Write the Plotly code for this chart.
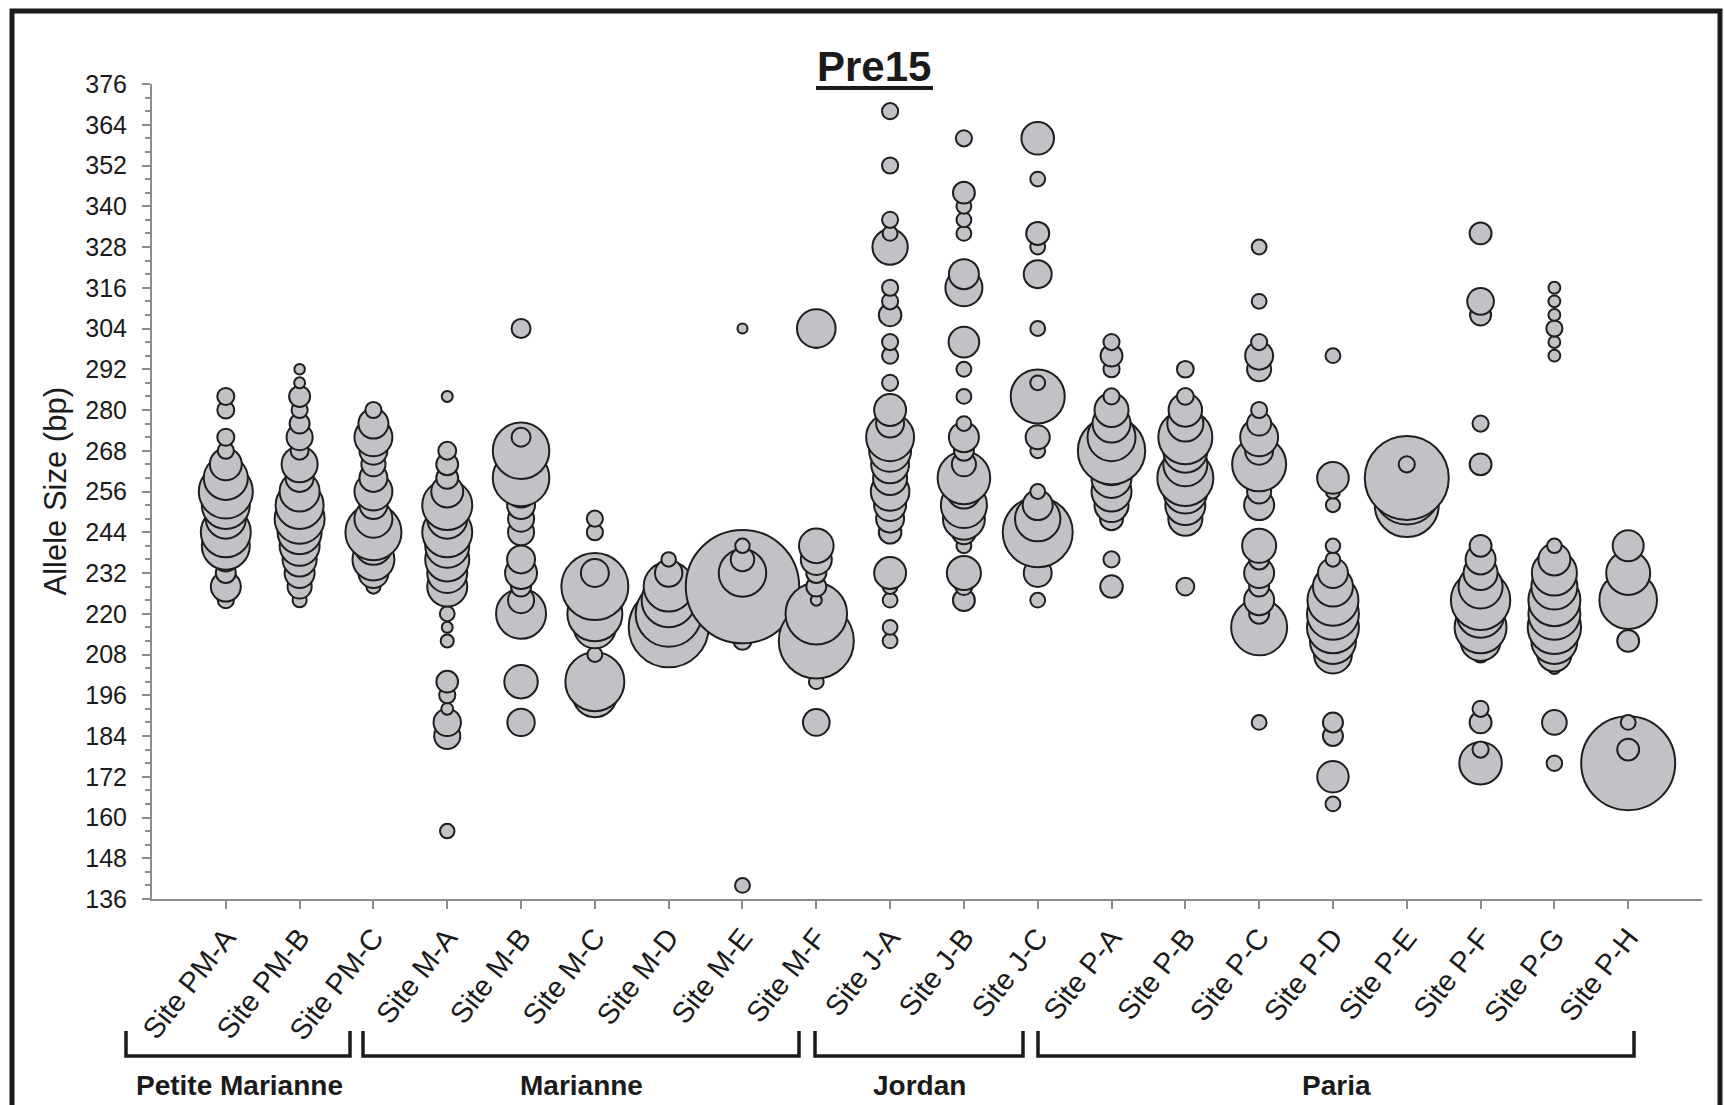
import plotly.graph_objects as go

# ---------------- data ----------------
sites = ["Site PM-A", "Site PM-B", "Site PM-C", "Site M-A", "Site M-B", "Site M-C",
         "Site M-D", "Site M-E", "Site M-F", "Site J-A", "Site J-B", "Site J-C",
         "Site P-A", "Site P-B", "Site P-C", "Site P-D", "Site P-E", "Site P-F",
         "Site P-G", "Site P-H"]

groups = ["Petite Marianne", "Marianne", "Jordan", "Paria"]

y_ticks = list(range(136, 377, 12))

# allele sizes (bp) and relative bubble value (frequency) per site
PM_A_size = [284, 280, 272, 268, 264, 260, 256, 252, 248, 244, 240, 236, 232, 228, 224]
PM_A_freq = [2.9, 2.9, 2.9, 2.6, 10.2, 19.4, 29.2, 23.0, 16.0, 25.0, 23.0, 5.8, 4.0, 9.0, 2.6]

PM_B_size = [292, 288, 284, 280, 276, 272, 268, 264, 260, 256, 252, 248, 244, 240, 236, 232, 228, 224]
PM_B_freq = [1.1, 1.2, 4.4, 2.6, 4.0, 6.8, 3.2, 13.0, 7.8, 16.0, 23.0, 25.0, 19.4, 16.0, 11.6, 9.0, 5.8, 2.0]

PM_C_size = [280, 276, 272, 268, 264, 260, 256, 252, 248, 244, 240, 236, 232, 228]
PM_C_freq = [2.6, 9.0, 14.4, 7.8, 5.8, 7.8, 14.4, 7.8, 14.4, 31.4, 14.4, 17.6, 9.0, 2.0]

M_A_size = [284, 268, 264, 260, 256, 252, 248, 244, 240, 236, 232, 228, 220, 216, 212, 200, 196, 192, 188, 184, 156]
M_A_freq = [1.2, 3.2, 4.8, 4.8, 10.2, 25.0, 16.0, 25.0, 19.4, 19.4, 16.0, 16.0, 2.2, 1.2, 1.7, 4.7, 2.6, 1.4, 7.5, 6.8, 2.1]

M_B_size = [304, 272, 268, 260, 256, 252, 248, 244, 236, 232, 228, 224, 220, 200, 188]
M_B_freq = [3.6, 3.6, 32.0, 32.0, 10.2, 7.8, 6.8, 6.8, 7.8, 10.2, 4.0, 6.8, 25.0, 11.2, 7.5]

M_C_size = [248, 244, 232, 228, 220, 216, 208, 200, 196]
M_C_freq = [2.6, 2.6, 7.8, 44.9, 30.3, 17.6, 2.2, 34.8, 19.4]

M_D_size = [236, 232, 228, 224, 220, 216]
M_D_freq = [2.1, 7.5, 25.0, 29.2, 43.6, 64.0]

M_E_size = [304, 240, 236, 232, 228, 212, 140]
M_E_freq = [1.0, 2.1, 5.5, 22.5, 128.6, 3.2, 2.2]

M_F_size = [304, 300, 240, 236, 232, 228, 224, 220, 212, 200, 188]
M_F_freq = [14.9, 1.4, 12.0, 9.6, 4.0, 4.0, 1.2, 37.9, 56.3, 2.2, 7.1]

J_A_size = [368, 352, 336, 332, 328, 316, 312, 308, 300, 296, 288, 280, 276, 272, 268, 264,
            260, 256, 252, 248, 244, 232, 228, 224, 216, 212]
J_A_freq = [2.6, 2.6, 2.6, 2.2, 12.5, 2.6, 2.6, 5.1, 2.6, 2.6, 2.6, 10.2, 7.8, 23.0, 17.6, 14.4,
            11.6, 14.9, 10.2, 7.8, 5.1, 10.2, 2.2, 2.2, 2.2, 2.2]

J_B_size = [360, 344, 340, 336, 332, 320, 316, 300, 292, 284, 276, 272, 268, 264, 260, 256,
            252, 248, 244, 240, 232, 228, 224]
J_B_freq = [2.6, 4.8, 2.2, 2.2, 2.2, 9.0, 13.7, 9.4, 2.2, 2.2, 2.2, 9.0, 4.0, 5.8, 27.7, 11.6,
            21.2, 17.6, 5.8, 2.2, 11.6, 2.9, 4.8]

J_C_size = [360, 348, 332, 328, 320, 304, 288, 284, 272, 268, 256, 252, 248, 244, 232, 224]
J_C_freq = [10.6, 2.2, 5.3, 2.2, 7.8, 2.2, 2.2, 29.2, 5.8, 2.2, 2.2, 9.0, 20.6, 49.0, 7.8, 2.2]

P_A_size = [300, 296, 292, 284, 280, 276, 272, 268, 264, 260, 256, 252, 248, 236, 228]
P_A_freq = [2.6, 4.8, 2.6, 2.6, 11.6, 14.4, 23.0, 45.4, 17.6, 16.0, 16.0, 11.6, 5.3, 2.6, 5.1]

P_B_size = [292, 284, 280, 276, 272, 268, 264, 260, 256, 252, 248, 228]
P_B_freq = [2.8, 2.8, 11.2, 13.0, 29.2, 19.4, 19.4, 31.4, 19.4, 16.0, 11.6, 3.2]

P_C_size = [328, 312, 300, 296, 292, 280, 276, 272, 268, 264, 260, 256, 252, 240, 236, 232,
            228, 224, 220, 216, 188]
P_C_freq = [2.2, 2.2, 2.6, 7.8, 5.8, 2.6, 5.8, 14.4, 7.8, 29.2, 5.8, 5.8, 9.0, 11.6, 4.0, 9.0,
            4.0, 9.0, 4.0, 31.4, 2.2]

P_D_size = [296, 260, 256, 252, 240, 236, 232, 228, 224, 220, 216, 212, 208, 188, 184, 172, 164]
P_D_freq = [2.2, 10.0, 2.0, 2.0, 2.1, 2.1, 9.0, 16.0, 26.0, 27.0, 27.0, 21.2, 14.4, 4.0, 4.0, 9.9, 2.2]

P_E_size = [264, 260, 256, 252]
P_E_freq = [2.6, 70.6, 43.6, 41.0]

P_F_size = [332, 312, 308, 276, 264, 240, 236, 232, 228, 224, 220, 216, 212, 208, 192, 188, 180, 176]
P_F_freq = [4.8, 7.1, 4.4, 2.6, 4.8, 4.8, 9.0, 11.6, 19.4, 35.3, 23.0, 27.0, 16.0, 2.6, 2.6, 4.8, 2.6, 18.1]

P_G_size = [316, 312, 308, 304, 300, 296, 240, 236, 232, 228, 224, 220, 216, 212, 208, 204, 188, 176]
P_G_freq = [1.4, 1.4, 1.4, 2.6, 1.4, 1.4, 2.1, 10.2, 20.3, 21.2, 27.0, 27.0, 28.5, 21.2, 11.6, 1.4, 6.1, 2.4]

P_H_size = [240, 232, 224, 212, 188, 180, 176]
P_H_freq = [9.6, 19.4, 33.2, 4.8, 2.2, 4.8, 88.4]

allele_lists = [PM_A_size, PM_B_size, PM_C_size, M_A_size, M_B_size, M_C_size, M_D_size,
                M_E_size, M_F_size, J_A_size, J_B_size, J_C_size, P_A_size, P_B_size,
                P_C_size, P_D_size, P_E_size, P_F_size, P_G_size, P_H_size]
freq_lists = [PM_A_freq, PM_B_freq, PM_C_freq, M_A_freq, M_B_freq, M_C_freq, M_D_freq,
              M_E_freq, M_F_freq, J_A_freq, J_B_freq, J_C_freq, P_A_freq, P_B_freq,
              P_C_freq, P_D_freq, P_E_freq, P_F_freq, P_G_freq, P_H_freq]

# ---------------- build ----------------
xs, ys, vs = [], [], []
for site, alle, fr in zip(sites, allele_lists, freq_lists):
    # lower alleles drawn first, higher ones on top (as in the original)
    for a, f in sorted(zip(alle, fr)):
        xs.append(site)
        ys.append(a)
        vs.append(f)

W, H = 1724, 1105
ML, MR, MT, MB = 152, 22, 84, 206
PW, PH = W - ML - MR, H - MT - MB


def px_x(p):
    return (p - ML) / PW


def px_y(p):
    return (H - MB - p) / PH


FONT = "Liberation Sans, Arial, Helvetica, sans-serif"
NARROW = "Liberation Sans Narrow, Arial Narrow, Liberation Sans, sans-serif"
AXC = "#8c8c8c"
TXT = "#1a1a1a"

fig = go.Figure(go.Scatter(
    x=xs, y=ys, mode="markers",
    marker=dict(size=vs, sizemode="area", sizeref=0.02, sizemin=0,
                color="#c1c2c6", opacity=1,
                line=dict(color="#1e1e1e", width=2)),
    hoverinfo="x+y", cliponaxis=False,
))

fig.update_layout(
    width=W, height=H,
    margin=dict(l=ML, r=MR, t=MT, b=MB, pad=0),
    paper_bgcolor="white", plot_bgcolor="white",
    showlegend=False,
    font=dict(family=FONT, color=TXT),
)

fig.update_xaxes(
    type="category", categoryorder="array", categoryarray=sites,
    range=[-1, 20], showline=True, linecolor=AXC, linewidth=2,
    ticks="outside", ticklen=8, tickwidth=2, tickcolor=AXC,
    tickangle=-52, tickfont=dict(size=29, family=FONT, color=TXT),
    showgrid=False, zeroline=False,
)
fig.update_yaxes(
    range=[136, 376], tickmode="array", tickvals=y_ticks,
    showline=True, linecolor=AXC, linewidth=2,
    ticks="outside", ticklen=8, tickwidth=2, tickcolor=AXC,
    minor=dict(tick0=136, dtick=4, ticks="outside", ticklen=5, tickwidth=2, tickcolor=AXC),
    tickfont=dict(size=25, family=NARROW, color=TXT), ticklabelstandoff=10,
    showgrid=False, zeroline=False,
)

annotations = [
    dict(text="<b>Pre15</b>", x=px_x(874), y=px_y(66.5), xref="paper", yref="paper",
         xanchor="center", yanchor="middle", showarrow=False,
         font=dict(size=42, family=FONT, color=TXT)),
    dict(text="Allele Size (bp)", x=px_x(55), y=0.5, xref="paper", yref="paper",
         xanchor="center", yanchor="middle", textangle=-90, showarrow=False,
         font=dict(size=31, family=FONT, color=TXT)),
]
group_centers_px = [239, 581, 919, 1336]
for g, cx in zip(groups, group_centers_px):
    annotations.append(dict(text="<b>%s</b>" % g, x=px_x(cx), y=px_y(1085),
                            xref="paper", yref="paper", xanchor="center", yanchor="middle",
                            showarrow=False, font=dict(size=28, family=FONT, color=TXT)))

shapes = [
    # outer frame
    dict(type="rect", xref="paper", yref="paper", x0=px_x(12), x1=px_x(1720),
         y0=px_y(1112), y1=px_y(11), line=dict(color="#1a1a1a", width=5)),
    # title underline
    dict(type="line", xref="paper", yref="paper", x0=px_x(816), x1=px_x(933),
         y0=px_y(88), y1=px_y(88), line=dict(color=TXT, width=4)),
]
brackets_px = [(126, 350), (363, 799), (815, 1023), (1038, 1634)]
for a, b in brackets_px:
    shapes.append(dict(type="path", xref="paper", yref="paper",
                       path="M %f %f L %f %f L %f %f L %f %f" % (
                           px_x(a), px_y(1031), px_x(a), px_y(1056),
                           px_x(b), px_y(1056), px_x(b), px_y(1031)),
                       line=dict(color=TXT, width=3.5)))

fig.update_layout(annotations=annotations, shapes=shapes)

fig.write_html("out.html", config={"displayModeBar": False},
               post_script="document.body.style.margin='0';document.body.style.overflow='hidden';")
